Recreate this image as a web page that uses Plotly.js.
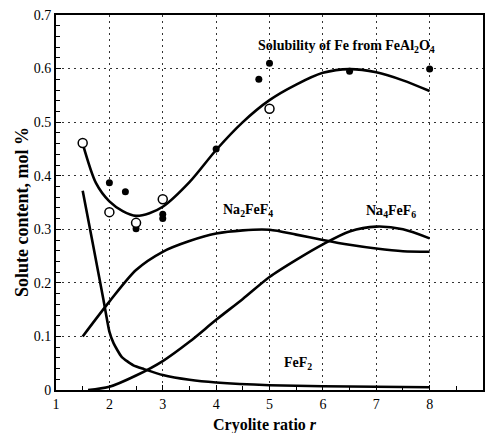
<!DOCTYPE html>
<html>
<head>
<meta charset="utf-8">
<script src="https://cdn.plot.ly/plotly-3.0.1.min.js"></script>
<style>html,body{margin:0;padding:0;background:#fff;}#chart{width:485px;height:433px;}</style>
</head>
<body>
<div id="chart"></div>
<script>
// Measured points
var openX = [1.5, 2.0, 2.5, 3.0, 5.0];
var openY = [0.461, 0.332, 0.312, 0.356, 0.525];
var filledX = [2.0, 2.3, 2.5, 3.0, 3.0, 4.0, 4.8, 5.0, 6.5, 8.0];
var filledY = [0.387, 0.370, 0.301, 0.328, 0.320, 0.450, 0.580, 0.610, 0.595, 0.599];

// Fitted curves
var solX = [1.5, 1.75, 2.0, 2.25, 2.5, 2.75, 3.0, 3.5, 4.0, 4.5, 5.0, 5.5, 6.0, 6.5, 7.0, 7.5, 8.0];
var solY = [0.460, 0.386, 0.352, 0.334, 0.325, 0.330, 0.342, 0.388, 0.448, 0.500, 0.541, 0.570, 0.592, 0.599, 0.593, 0.578, 0.558];

var na2X = [1.5, 2.0, 2.5, 3.0, 3.5, 4.0, 4.5, 5.0, 5.5, 6.0, 6.5, 7.0, 7.5, 8.0];
var na2Y = [0.100, 0.165, 0.224, 0.258, 0.278, 0.292, 0.298, 0.299, 0.290, 0.280, 0.271, 0.264, 0.259, 0.258];

var na4X = [1.6, 2.0, 2.5, 3.0, 3.5, 4.0, 4.5, 5.0, 5.5, 6.0, 6.5, 7.0, 7.5, 8.0];
var na4Y = [0.000, 0.006, 0.027, 0.054, 0.090, 0.131, 0.170, 0.211, 0.243, 0.272, 0.296, 0.305, 0.300, 0.283];

var fefX = [1.5, 1.7, 1.89, 2.0, 2.08, 2.23, 2.45, 2.65, 3.0, 3.5, 4.0, 5.0, 6.0, 7.0, 8.0];
var fefY = [0.372, 0.268, 0.168, 0.109, 0.087, 0.062, 0.046, 0.039, 0.028, 0.019, 0.014, 0.009, 0.007, 0.006, 0.005];

var xTicks = [1, 2, 3, 4, 5, 6, 7, 8, 9];
var yTicks = [0, 0.1, 0.2, 0.3, 0.4, 0.5, 0.6, 0.7];
var yTickText = ['0', '0.1', '0.2', '0.3', '0.4', '0.5', '0.6', '0.7'];

var lineStyle = {color: '#000', width: 2.6, shape: 'spline', smoothing: 0.8};
var traces = [
  {x: solX, y: solY, mode: 'lines', line: lineStyle, hoverinfo: 'skip'},
  {x: na2X, y: na2Y, mode: 'lines', line: lineStyle, hoverinfo: 'skip'},
  {x: na4X, y: na4Y, mode: 'lines', line: lineStyle, hoverinfo: 'skip'},
  {x: fefX, y: fefY, mode: 'lines', line: {color: '#000', width: 2.6, shape: 'spline', smoothing: 0.5}, hoverinfo: 'skip'},
  {x: filledX, y: filledY, mode: 'markers', marker: {symbol: 'circle', size: 7, color: '#000'}},
  {x: openX, y: openY, mode: 'markers', marker: {symbol: 'circle', size: 9, color: '#fff', line: {color: '#000', width: 1.5}}}
];

var serif = 'Liberation Serif, Times New Roman, serif';
var layout = {
  width: 485, height: 433,
  margin: {l: 56, r: 2, t: 15, b: 43},
  paper_bgcolor: '#fff', plot_bgcolor: '#fff',
  showlegend: false,
  font: {family: serif, size: 14, color: '#000'},
  xaxis: {
    range: [1, 9], tickvals: xTicks, ticktext: xTicks.map(String),
    ticks: 'inside', ticklen: 5, tickwidth: 1, tickcolor: '#000',
    minor: {dtick: 0.5, ticks: 'inside', ticklen: 4, tickwidth: 1, tickcolor: '#000', showgrid: false},
    showline: true, linewidth: 2, linecolor: '#000', mirror: true,
    showgrid: true, gridcolor: '#333', gridwidth: 1, griddash: '2px,4px',
    zeroline: false, tickfont: {family: serif, size: 14}
  },
  yaxis: {
    range: [0, 0.7], tickvals: yTicks, ticktext: yTickText,
    ticks: 'inside', ticklen: 5, tickwidth: 1, tickcolor: '#000',
    minor: {dtick: 0.02, ticks: 'inside', ticklen: 4, tickwidth: 1, tickcolor: '#000', showgrid: false},
    showline: true, linewidth: 2, linecolor: '#000', mirror: true,
    showgrid: true, gridcolor: '#333', gridwidth: 1, griddash: '2px,4px',
    zeroline: false, tickfont: {family: serif, size: 14}
  },
  annotations: [
    {x: (265 - 56) / 427, y: -0.093, xref: 'paper', yref: 'paper', xanchor: 'center', yanchor: 'middle',
     text: '<b>Cryolite ratio <i>r</i></b>', showarrow: false, font: {family: serif, size: 16}},
    {x: (22 - 56) / 427, y: (390 - 212) / 375, xref: 'paper', yref: 'paper', xanchor: 'center', yanchor: 'middle',
     textangle: -90, text: '<b>Solute content, mol %</b>', showarrow: false, font: {family: serif, size: 18}},
    {x: 6.44, y: 0.642, xref: 'x', yref: 'y', text: '<b>Solubility of Fe from FeAl<sub>2</sub>O<sub>4</sub></b>', showarrow: false, font: {family: serif, size: 14}},
    {x: 4.59, y: 0.336, xref: 'x', yref: 'y', text: '<b>Na<sub>2</sub>FeF<sub>4</sub></b>', showarrow: false, font: {family: serif, size: 14}},
    {x: 7.28, y: 0.334, xref: 'x', yref: 'y', text: '<b>Na<sub>4</sub>FeF<sub>6</sub></b>', showarrow: false, font: {family: serif, size: 14}},
    {x: 5.54, y: 0.049, xref: 'x', yref: 'y', text: '<b>FeF<sub>2</sub></b>', showarrow: false, font: {family: serif, size: 14}}
  ]
};

Plotly.newPlot('chart', traces, layout, {displayModeBar: false, staticPlot: true});
</script>
</body>
</html>
